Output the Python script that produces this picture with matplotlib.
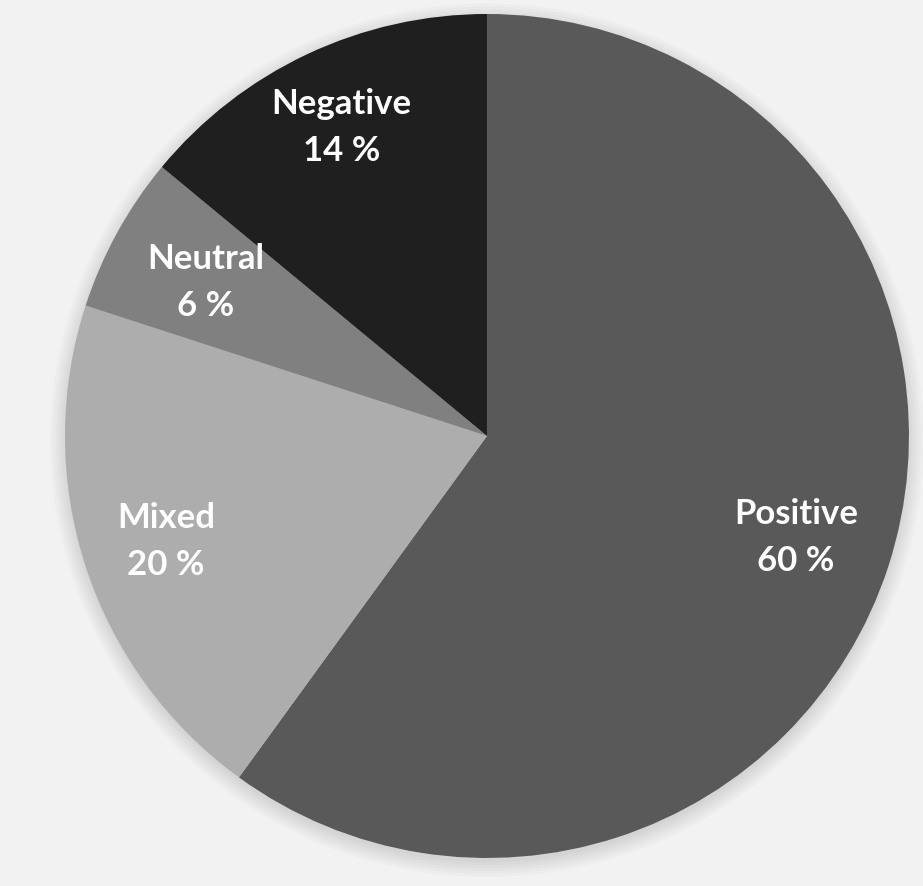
import numpy as np
import matplotlib.pyplot as plt
from matplotlib.patches import Circle

# data
labels = ['Positive', 'Mixed', 'Neutral', 'Negative']
shares = [60, 20, 6, 14]
colors = ['#595959', '#adadad', '#808080', '#1f1f1f']
label_r = [0.77, 0.80, 0.76, 0.81]   # label distance from centre

fig = plt.figure(figsize=(9.23, 8.87), dpi=100)
fig.patch.set_facecolor('#f2f2f2')

ax = fig.add_axes([0.0704, 0.0316, 0.9144, 0.9515])
ax.set_xlim(-1, 1)
ax.set_ylim(-1, 1)
ax.set_aspect('equal')
ax.axis('off')

# soft shadow behind the pie
for i in range(6):
    ax.add_patch(Circle((0.0, -0.01), 1.0 + 0.007 * i, color='#000000',
                        alpha=0.018, lw=0, zorder=0, clip_on=False))

wedges, _ = ax.pie(shares, colors=colors, startangle=90, counterclock=False,
                   radius=1.0, wedgeprops=dict(linewidth=0))

for w, name, val, r in zip(wedges, labels, shares, label_r):
    mid = np.deg2rad((w.theta1 + w.theta2) / 2)
    ax.text(r * np.cos(mid), r * np.sin(mid), f'{name}\n{val} %',
            ha='center', va='center', color='white', fontsize=25,
            fontweight='bold', family='Lato', linespacing=1.6)

ax.set_xlim(-1, 1)
ax.set_ylim(-1, 1)

plt.savefig('out.png', dpi=100, facecolor=fig.get_facecolor())
